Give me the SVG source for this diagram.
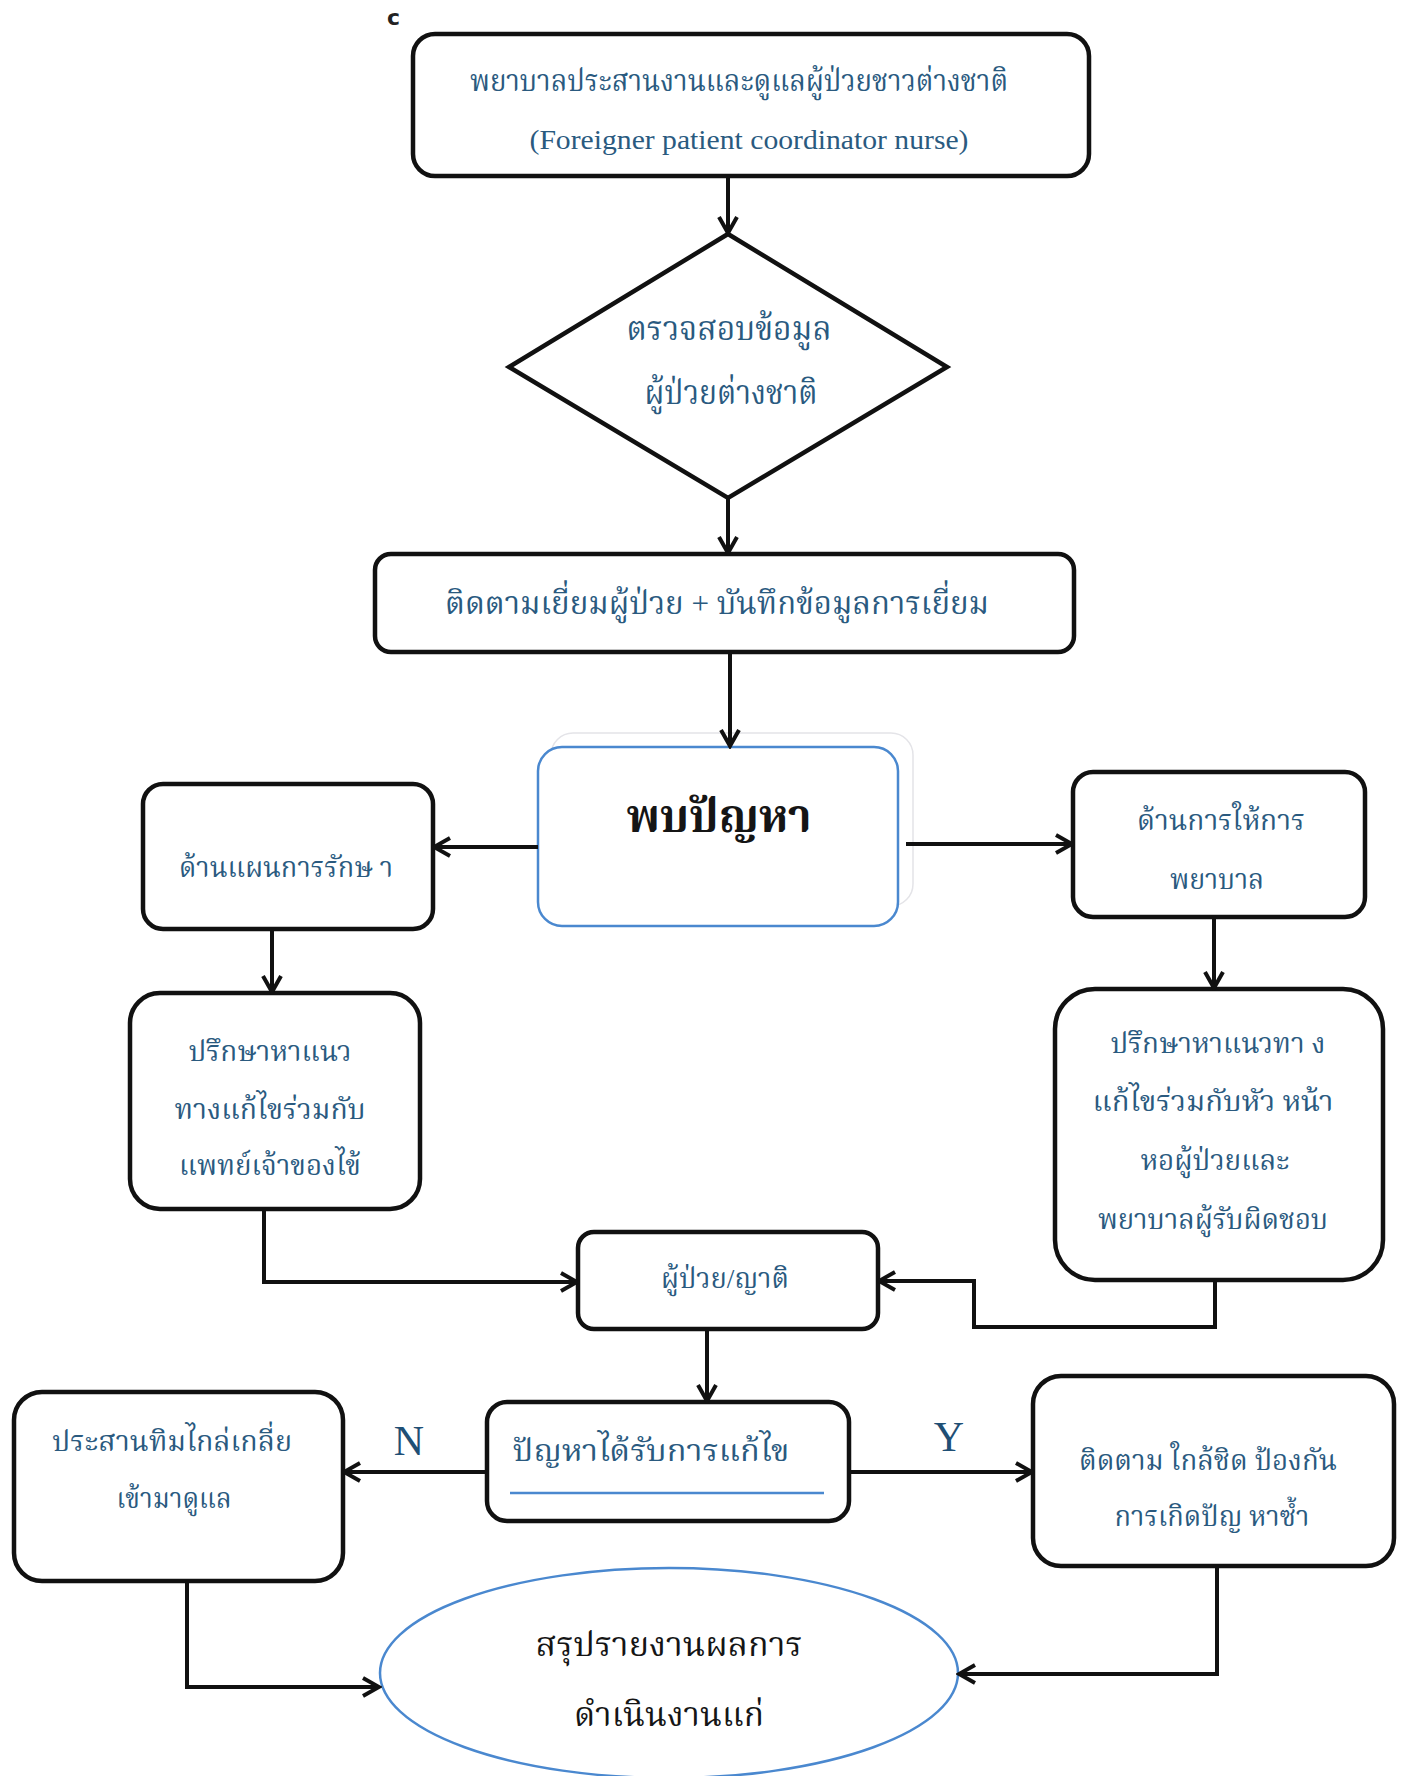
<svg xmlns="http://www.w3.org/2000/svg" width="1403" height="1776" viewBox="0 0 1403 1776">
<style>
.box{fill:#fff;stroke:#111;stroke-width:4.5}
.bl{fill:#fff;stroke:#4a88cf;stroke-width:2.5}
.t{font-family:"Liberation Serif","Noto Serif Thai","Noto Sans Thai",serif;fill:#2a5a7f;text-anchor:middle}
.k{fill:#151515}
.c{fill:none;stroke:#111;stroke-width:4;marker-end:url(#arr)}
</style>
<defs>
<marker id="arr" viewBox="0 0 24 24" refX="21" refY="12" markerWidth="24" markerHeight="24" orient="auto" markerUnits="userSpaceOnUse">
<path d="M5,3 L21,12 L5,21" fill="none" stroke="#111" stroke-width="4"/>
</marker>
</defs>
<rect width="1403" height="1776" fill="#fff"/>
<text x="387" y="25" font-family="DejaVu Sans, sans-serif" font-size="22" font-weight="bold" fill="#222">c</text>

<g id="n-coordinator">
<rect class="box" x="413" y="34" width="676" height="142" rx="22"/>
<text class="t" x="739" y="91" font-size="30" textLength="538" lengthAdjust="spacingAndGlyphs">พยาบาลประสานงานและดูแลผู้ป่วยชาวต่างชาติ</text>
<text class="t" x="749" y="149" font-size="27" textLength="439" lengthAdjust="spacingAndGlyphs">(Foreigner patient coordinator nurse)</text>
</g>
<g id="n-check">
<polygon class="box" points="728,234 947,367 728,498 509,367"/>
<text class="t" x="729" y="340" font-size="33" textLength="205" lengthAdjust="spacingAndGlyphs">ตรวจสอบข้อมูล</text>
<text class="t" x="731" y="404" font-size="33" textLength="173" lengthAdjust="spacingAndGlyphs">ผู้ป่วยต่างชาติ</text>
</g>
<g id="n-visit">
<rect class="box" x="375" y="554" width="699" height="98" rx="16"/>
<text class="t" x="717" y="614" font-size="32" textLength="544" lengthAdjust="spacingAndGlyphs">ติดตามเยี่ยมผู้ป่วย + บันทึกข้อมูลการเยี่ยม</text>
</g>
<g id="n-problem">
<rect x="551" y="733" width="362" height="173" rx="22" fill="none" stroke="#e4e4e8" stroke-width="1.5"/>
<rect class="bl" x="538" y="747" width="360" height="179" rx="24"/>
<text class="t k" x="719" y="832" font-size="46" font-weight="bold" textLength="185" lengthAdjust="spacingAndGlyphs">พบปัญหา</text>
</g>
<g id="n-treatment">
<rect class="box" x="143" y="784" width="290" height="145" rx="20"/>
<text class="t" x="286" y="877" font-size="28" textLength="214" lengthAdjust="spacingAndGlyphs">ด้านแผนการรักษ า</text>
</g>
<g id="n-nursing">
<rect class="box" x="1073" y="772" width="292" height="145" rx="20"/>
<text class="t" x="1221" y="830" font-size="28" textLength="168" lengthAdjust="spacingAndGlyphs">ด้านการให้การ</text>
<text class="t" x="1217" y="889" font-size="28" textLength="94" lengthAdjust="spacingAndGlyphs">พยาบาล</text>
</g>
<g id="n-doctor">
<rect class="box" x="130" y="993" width="290" height="216" rx="30"/>
<text class="t" x="270" y="1061" font-size="28" textLength="163" lengthAdjust="spacingAndGlyphs">ปรึกษาหาแนว</text>
<text class="t" x="270" y="1119" font-size="28" textLength="191" lengthAdjust="spacingAndGlyphs">ทางแก้ไขร่วมกับ</text>
<text class="t" x="270" y="1175" font-size="28" textLength="182" lengthAdjust="spacingAndGlyphs">แพทย์เจ้าของไข้</text>
</g>
<g id="n-head">
<rect class="box" x="1055" y="989" width="328" height="291" rx="40"/>
<text class="t" x="1218" y="1053" font-size="28" textLength="215" lengthAdjust="spacingAndGlyphs">ปรึกษาหาแนวทา ง</text>
<text class="t" x="1213" y="1111" font-size="28" textLength="241" lengthAdjust="spacingAndGlyphs">แก้ไขร่วมกับหัว หน้า</text>
<text class="t" x="1215" y="1170" font-size="28" textLength="149" lengthAdjust="spacingAndGlyphs">หอผู้ป่วยและ</text>
<text class="t" x="1213" y="1229" font-size="28" textLength="230" lengthAdjust="spacingAndGlyphs">พยาบาลผู้รับผิดชอบ</text>
</g>
<g id="n-patient">
<rect class="box" x="578" y="1232" width="300" height="97" rx="16"/>
<text class="t" x="725" y="1288" font-size="28" textLength="128" lengthAdjust="spacingAndGlyphs">ผู้ป่วย/ญาติ</text>
</g>
<g id="n-solved">
<rect class="box" x="487" y="1402" width="362" height="119" rx="20"/>
<text class="t" x="651" y="1461" font-size="30" textLength="277" lengthAdjust="spacingAndGlyphs">ปัญหาได้รับการแก้ไข</text>
<line x1="510" y1="1493" x2="824" y2="1493" stroke="#4a88cf" stroke-width="2.5"/>
</g>
<g id="n-mediate">
<rect class="box" x="14" y="1392" width="329" height="189" rx="28"/>
<text class="t" x="172" y="1451" font-size="28" textLength="240" lengthAdjust="spacingAndGlyphs">ประสานทิมไกล่เกลี่ย</text>
<text class="t" x="174" y="1508" font-size="28" textLength="115" lengthAdjust="spacingAndGlyphs">เข้ามาดูแล</text>
</g>
<g id="n-follow">
<rect class="box" x="1033" y="1376" width="361" height="190" rx="28"/>
<text class="t" x="1208" y="1470" font-size="28" textLength="258" lengthAdjust="spacingAndGlyphs">ติดตาม ใกล้ชิด ป้องกัน</text>
<text class="t" x="1212" y="1526" font-size="28" textLength="195" lengthAdjust="spacingAndGlyphs">การเกิดปัญ หาซ้ำ</text>
</g>
<g id="n-summary">
<ellipse cx="669" cy="1673" rx="289" ry="105" fill="#fff" stroke="#4a88cf" stroke-width="2.5"/>
<text class="t k" x="669" y="1656" font-size="34" textLength="267" lengthAdjust="spacingAndGlyphs">สรุปรายงานผลการ</text>
<text class="t k" x="669" y="1726" font-size="34" textLength="190" lengthAdjust="spacingAndGlyphs">ดำเนินงานแก่</text>
</g>

<g id="connectors">
<path class="c" d="M728,176 V233"/>
<path class="c" d="M728,498 V553"/>
<path class="c" d="M730,652 V746"/>
<path class="c" d="M538,847 H434"/>
<path class="c" d="M906,844 H1072"/>
<path class="c" d="M272,929 V992"/>
<path class="c" d="M1214,917 V988"/>
<path class="c" d="M264,1209 V1282 H577"/>
<path class="c" d="M1215,1280 V1327 H974 V1281 H879"/>
<path class="c" d="M707,1329 V1401"/>
<path class="c" d="M487,1472 H344"/>
<path class="c" d="M849,1472 H1032"/>
<path class="c" d="M187,1581 V1687 H379"/>
<path class="c" d="M1217,1566 V1674 H959"/>
<text x="409" y="1455" font-family="Liberation Serif, serif" font-size="42" fill="#1f4f75" text-anchor="middle">N</text>
<text x="949" y="1451" font-family="Liberation Serif, serif" font-size="42" fill="#1f4f75" text-anchor="middle">Y</text>
</g>
</svg>
